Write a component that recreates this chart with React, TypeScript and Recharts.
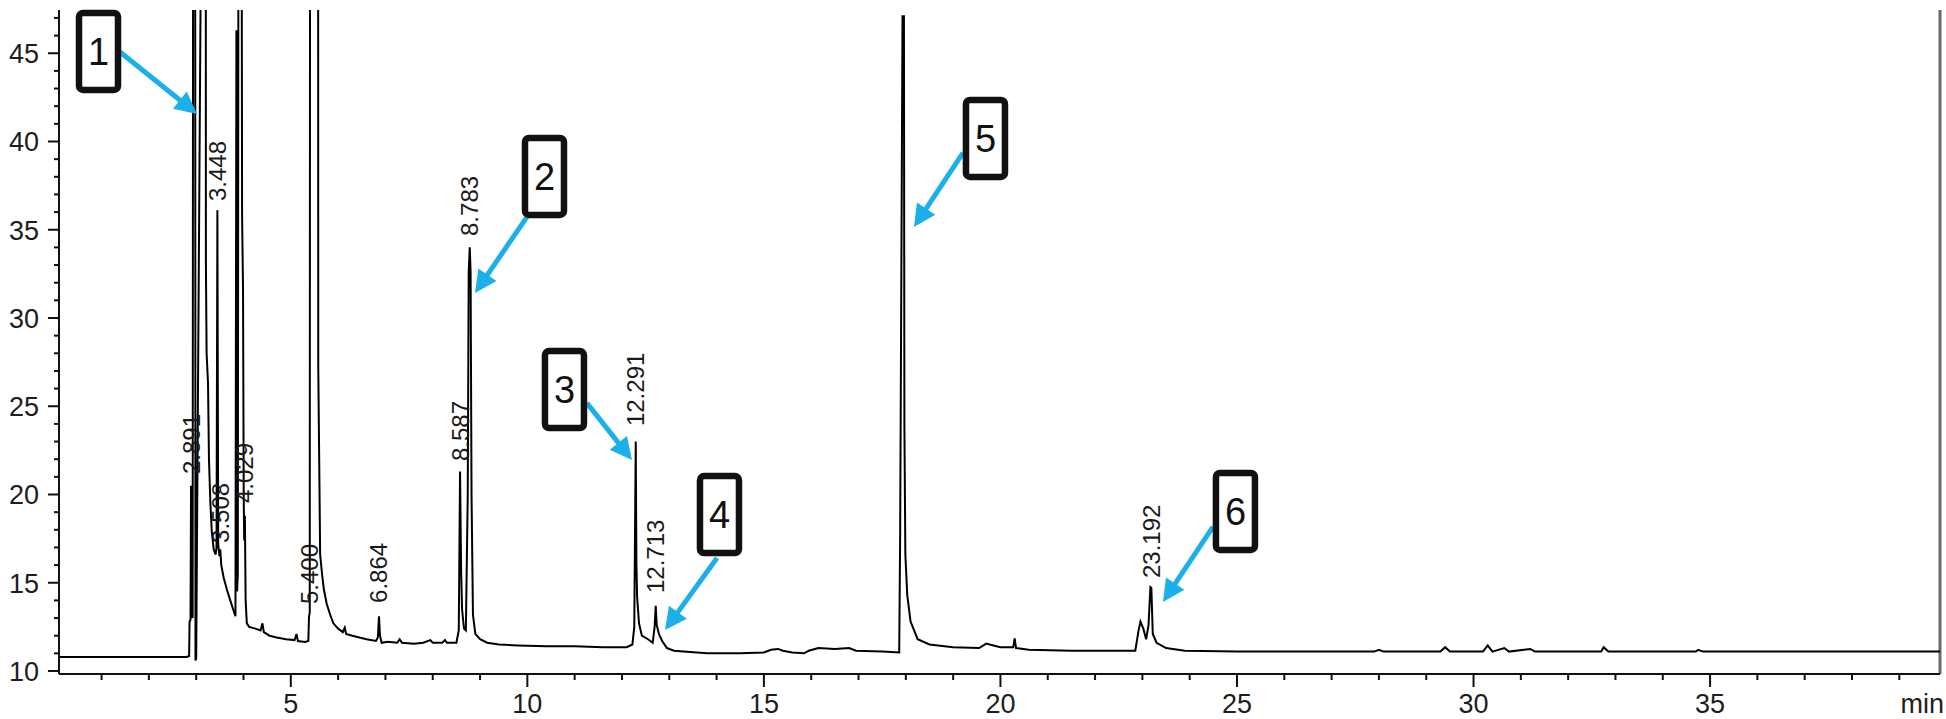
import React from "react";
import {
  ComposedChart,
  Line,
  XAxis,
  YAxis,
  ReferenceDot,
  ReferenceLine,
} from "recharts";

// retention time (min) and detector signal
const traceTime = [
  0.1, 2.8, 2.85, 2.86, 2.88, 2.891, 2.905, 2.925, 2.94, 2.975, 2.985, 3.0,
  3.16, 3.2, 3.205, 3.22, 3.25, 3.27, 3.3, 3.33, 3.37, 3.41, 3.43, 3.448,
  3.465, 3.49, 3.508, 3.53, 3.58, 3.65, 3.72, 3.78, 3.83, 3.85, 3.865, 3.88,
  3.9, 3.95, 3.97, 3.99, 4.005, 4.015, 4.029, 4.045, 4.07, 4.12, 4.25, 4.36,
  4.4, 4.43, 4.55, 4.7, 4.9, 5.08, 5.12, 5.15, 5.3, 5.37, 5.385, 5.4, 5.41,
  5.575, 5.58, 5.6, 5.62, 5.66, 5.7, 5.76, 5.83, 5.9, 6.0, 6.1, 6.14, 6.17,
  6.3, 6.45, 6.6, 6.8, 6.84, 6.864, 6.885, 6.92, 7.05, 7.25, 7.3, 7.35, 7.6,
  7.8, 7.95, 8.0, 8.2, 8.26, 8.3, 8.5, 8.55, 8.577, 8.6, 8.62, 8.66, 8.7,
  8.74, 8.76, 8.783, 8.8, 8.82, 8.85, 8.9, 9.0, 9.15, 9.4, 9.8, 10.4, 11.0,
  11.6, 12.1, 12.22, 12.26, 12.291, 12.305, 12.32, 12.36, 12.42, 12.55, 12.65,
  12.69, 12.713, 12.735, 12.78, 12.85, 12.95, 13.1, 13.3, 13.8, 14.5, 15.0,
  15.15, 15.3, 15.4, 15.6, 15.85, 15.95, 16.15, 16.5, 16.8, 16.95, 17.5, 17.86,
  17.88, 17.93, 17.96, 17.97, 17.99, 18.03, 18.1, 18.25, 18.5, 19.0, 19.55,
  19.7, 19.85, 20.0, 20.27, 20.3, 20.33, 20.6, 21.5, 22.85, 22.92, 22.96,
  23.02, 23.08, 23.13, 23.17, 23.19, 23.22, 23.3, 23.5, 23.9, 25.0, 27.9,
  28.0, 28.1, 29.3, 29.4, 29.5, 30.2, 30.3, 30.4, 30.65, 30.75, 31.2, 31.3,
  32.7, 32.75, 32.85, 34.7, 34.75, 34.85, 39.86,
];

const traceSignal = [
  10.8, 10.8, 10.85, 12.8, 12.9, 20.5, 13.5, 13.0, 75, 75, 10.6, 10.7,
  75, 75, 33.2, 28.0, 26.3, 22.0, 19.5, 17.9, 16.9, 16.6, 17.0, 36.1,
  17.2, 16.5, 16.9, 16.0, 15.3, 14.6, 14.0, 13.5, 13.1, 46.3, 14.5, 15.5,
  75, 75, 35.8, 31.6, 19.7, 17.4, 18.8, 14.0, 12.7, 12.5, 12.4, 12.3,
  12.7, 12.2, 12.0, 11.9, 11.8, 11.75, 12.1, 11.7, 11.65, 11.7, 13.1, 13.3, 75,
  75, 27.3, 22.0, 16.6, 15.5, 14.6, 13.8, 13.2, 12.7, 12.4, 12.2, 12.45, 12.1,
  12.0, 11.9, 11.8, 11.7, 11.9, 13.1, 12.0, 11.6, 11.65, 11.6, 11.8, 11.6, 11.55,
  11.6, 11.75, 11.6, 11.6, 11.75, 11.6, 11.6, 12.3, 21.3, 15.7, 13.5, 12.4, 12.3,
  20.0, 32.6, 34.0, 32.6, 20.0, 13.2, 12.1, 11.8, 11.6, 11.5, 11.45, 11.4, 11.4,
  11.35, 11.35, 11.5, 12.5, 23.0, 16.1, 14.2, 12.7, 12.0, 11.8, 11.6,
  12.5, 13.7, 12.6, 12.1, 11.7, 11.3, 11.15, 11.1, 11.0, 11.0, 11.05,
  11.2, 11.25, 11.15, 11.05, 11.0, 11.15, 11.3, 11.25, 11.3, 11.15, 11.1, 11.05,
  17.7, 47.1, 47.1, 23.9, 16.6, 14.3, 12.8, 11.8, 11.5, 11.35, 11.3,
  11.55, 11.45, 11.35, 11.35, 11.85, 11.3, 11.2, 11.15, 11.15, 12.3, 12.8,
  12.4, 11.8, 12.6, 14.75, 14.7, 12.1, 11.6, 11.3, 11.15, 11.1, 11.1,
  11.2, 11.1, 11.1, 11.35, 11.1, 11.1, 11.45, 11.1, 11.3, 11.1, 11.25, 11.1,
  11.1, 11.35, 11.1, 11.1, 11.2, 11.1, 11.1,
];

// integrated peak labels and the signal level where each label starts
const peakLabels = [
  "2.891", "3.448", "3.508", "4.029", "5.400", "6.864",
  "8.587", "8.783", "12.291", "12.713", "23.192",
];
const peakLabelHeights = [
  20.93, 36.4, 17.03, 19.29, 13.57, 13.63, 21.67, 34.42, 23.65, 14.19, 15.04,
];

// numbered callouts: arrow tip in data units
const calloutNames = ["1", "2", "3", "4", "5", "6"];
const calloutTipTime = [3.017, 8.893, 12.211, 12.909, 18.172, 23.435];
const calloutTipSignal = [41.56, 31.42, 21.95, 12.32, 35.16, 13.91];

const xTicks = Array.from({ length: 39 }, (_, i) => i + 1);
const yTicks = Array.from({ length: 38 }, (_, i) => i + 10);

// box / arrow-start offsets (px) from the arrow tip
const calloutLayout = [
  { bx: -121, by: -104, sx: -77, sy: -62 },
  { bx: 47, by: -158, sx: 52, sy: -76 },
  { bx: -90, by: -112, sx: -45, sy: -57 },
  { bx: 32, by: -157, sx: 52, sy: -72 },
  { bx: 49, by: -130, sx: 49, sy: -74 },
  { bx: 50, by: -132, sx: 50, sy: -75 },
];

const FONT = "'Liberation Sans', Arial, sans-serif";
const AXIS = "#111";
const BLUE = "#1cb0ea";

const data = traceTime.map((t, i) => ({ t, v: traceSignal[i] }));

function XTick(props: any) {
  const { x, y, payload } = props;
  const major = payload.value % 5 === 0;
  return (
    <g>
      <line x1={x} x2={x} y1={y} y2={y + (major ? 13 : 6)} stroke={AXIS} strokeWidth={2} />
      {major && (
        <text x={x} y={y + 39} textAnchor="middle" fontSize={27} fill="#1d1d1d" fontFamily={FONT}>
          {payload.value}
        </text>
      )}
    </g>
  );
}

function YTick(props: any) {
  const { x, y, payload } = props;
  const major = payload.value % 5 === 0;
  return (
    <g>
      <line x1={x - (major ? 11 : 5)} x2={x} y1={y} y2={y} stroke={AXIS} strokeWidth={2} />
      {major && (
        <text x={x - 20} y={y + 10} textAnchor="end" fontSize={27} fill="#1d1d1d" fontFamily={FONT}>
          {payload.value}
        </text>
      )}
    </g>
  );
}

function PeakLabel({ cx, cy, text }: any) {
  return (
    <text
      transform={`translate(${cx}, ${cy - 4}) rotate(-90)`}
      fontSize={24}
      fontFamily={FONT}
      fill="#1a1a1a"
      dominantBaseline="central"
    >
      {text}
    </text>
  );
}

function Callout({ cx, cy, name, layout }: any) {
  const sx = cx + layout.sx;
  const sy = cy + layout.sy;
  const dx = cx - sx;
  const dy = cy - sy;
  const len = Math.hypot(dx, dy);
  const ux = dx / len;
  const uy = dy / len;
  const head = 22;
  const half = 11;
  const bx = cx - ux * head;
  const by = cy - uy * head;
  const pts = `${cx},${cy} ${bx - uy * half},${by + ux * half} ${bx + uy * half},${by - ux * half}`;
  const left = cx + layout.bx;
  const top = cy + layout.by;
  return (
    <g>
      <line x1={sx} y1={sy} x2={bx + ux * 3} y2={by + uy * 3} stroke={BLUE} strokeWidth={5} />
      <polygon points={pts} fill={BLUE} />
      <rect x={left + 3} y={top + 3} width={39} height={77} rx={4} fill="#fff" stroke="#111" strokeWidth={6.5} />
      <text x={left + 22.5} y={top + 55} textAnchor="middle" fontSize={38} fontFamily={FONT} fill="#111">
        {name}
      </text>
    </g>
  );
}

export default function App() {
  return (
    <div style={{ position: "absolute", left: 0, top: 0, background: "#fff" }}>
      <ComposedChart
        width={1946}
        height={719}
        data={data}
        margin={{ top: 10, right: 6, bottom: 0, left: 0 }}
      >
        <XAxis
          type="number"
          dataKey="t"
          domain={[0.1, 39.86]}
          allowDataOverflow
          ticks={xTicks}
          interval={0}
          tickSize={0}
          tickMargin={0}
          tickLine={false}
          tick={<XTick />}
          height={45}
          axisLine={{ stroke: AXIS, strokeWidth: 2 }}
          label={{
            content: ({ viewBox }: any) => (
              <text
                x={viewBox.x + viewBox.width + 4}
                y={viewBox.y + 39}
                textAnchor="end"
                fontSize={27}
                fontFamily={FONT}
                fill="#1d1d1d"
              >
                min
              </text>
            ),
          }}
        />
        <YAxis
          type="number"
          domain={[9.83, 47.45]}
          allowDataOverflow
          ticks={yTicks}
          interval={0}
          tickSize={0}
          tickMargin={0}
          tickLine={false}
          tick={<YTick />}
          width={59}
          axisLine={{ stroke: AXIS, strokeWidth: 2 }}
        />
        <ReferenceLine x={39.86} stroke="#6b6b6b" strokeWidth={3} />
        <Line
          type="linear"
          dataKey="v"
          stroke="#000"
          strokeWidth={2}
          dot={false}
          isAnimationActive={false}
        />
        {peakLabels.map((lab, i) => (
          <ReferenceDot
            key={lab}
            x={parseFloat(lab)}
            y={peakLabelHeights[i]}
            r={0}
            shape={(p: any) => <PeakLabel cx={p.cx} cy={p.cy} text={lab} />}
          />
        ))}
        {calloutNames.map((name, i) => (
          <ReferenceDot
            key={"c" + name}
            x={calloutTipTime[i]}
            y={calloutTipSignal[i]}
            r={0}
            shape={(p: any) => (
              <Callout cx={p.cx} cy={p.cy} name={name} layout={calloutLayout[i]} />
            )}
          />
        ))}
      </ComposedChart>
    </div>
  );
}
